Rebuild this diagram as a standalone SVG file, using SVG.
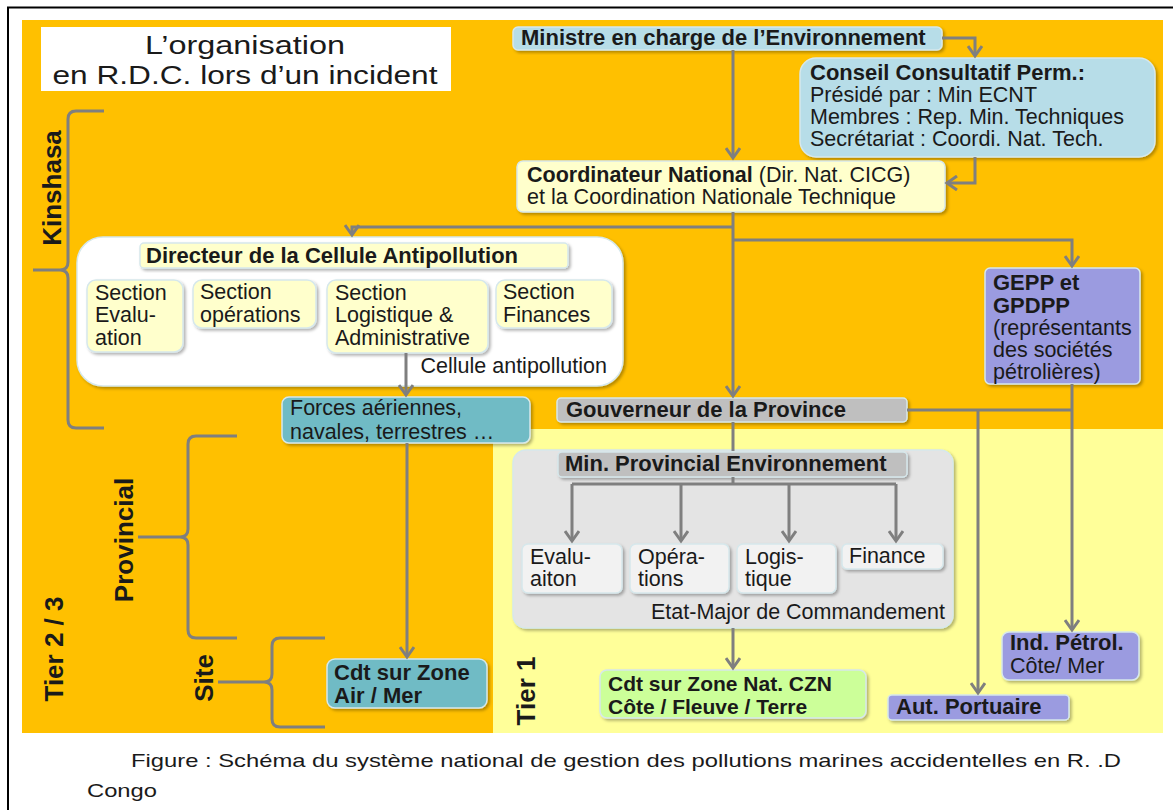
<svg xmlns="http://www.w3.org/2000/svg" width="1173" height="810" viewBox="0 0 1173 810">
<defs>
<style>
text{font-family:"Liberation Sans",Arial,sans-serif;fill:#1a1a1a}
.t{font-size:21.5px}
.b{font-size:22px;font-weight:bold}
.rot{font-size:26px;font-weight:bold;text-anchor:middle}
.box{stroke:#d6e8ec;stroke-width:1.5;filter:url(#sh)}
.lb{fill:#b7dde8}.ly{fill:#ffffcc}.teal{fill:#6fbbc5}.pur{fill:#9b9be0}.gr{fill:#bfbfbf}.em{fill:#e4e4e4}.sub{fill:#f2f2f2}.grn{fill:#ccff99}.wh{fill:#ffffff}
.c{fill:none;stroke:#7f7f7f;stroke-width:3}
.br{fill:none;stroke:#7f7f7f;stroke-width:3}
</style>
<filter id="sh" x="-5%" y="-10%" width="115%" height="130%">
<feDropShadow dx="2" dy="2" stdDeviation="1.5" flood-color="#000" flood-opacity="0.3"/>
</filter>
<marker id="ah" viewBox="0 0 14 16" refX="11" refY="8" markerWidth="14" markerHeight="16" markerUnits="userSpaceOnUse" orient="auto">
<path d="M1,1 L11,8 L1,15" fill="none" stroke="#7f7f7f" stroke-width="3"/>
</marker>
</defs>

<!-- background -->
<rect x="0" y="0" width="1173" height="810" fill="#ffffff"/>
<path d="M8,810 V7.5 H1173" fill="none" stroke="#000" stroke-width="2"/>
<rect x="22" y="20" width="1141" height="713" fill="#ffc000"/>
<rect x="493" y="429" width="670" height="304" fill="#ffff99"/>

<!-- title -->
<g id="title">
<rect x="41" y="27" width="410" height="64" fill="#ffffff"/>
<text x="245" y="54" style="font-size:26px;text-anchor:middle" textLength="200" lengthAdjust="spacingAndGlyphs">L’organisation</text>
<text x="245" y="84" style="font-size:26px;text-anchor:middle" textLength="385" lengthAdjust="spacingAndGlyphs">en R.D.C. lors d’un incident</text>
</g>

<!-- side labels and braces -->
<g id="kinshasa">
<path class="br" d="M104,111 H76 Q68,111 68,119 V262 Q68,270 60,270 H33 H60 Q68,270 68,278 V420 Q68,428 76,428 H104"/>
<text class="rot" transform="translate(61,188) rotate(-90)">Kinshasa</text>
</g>
<g id="provincial">
<path class="br" d="M237,436 H196 Q188,436 188,444 V529 Q188,537 180,537 H138 H180 Q188,537 188,545 V630 Q188,638 196,638 H237"/>
<text class="rot" transform="translate(133,540) rotate(-90)">Provincial</text>
</g>
<g id="site">
<path class="br" d="M325,638 H280 Q272,638 272,646 V674 Q272,682 264,682 H218 H264 Q272,682 272,690 V719 Q272,727 280,727 H325"/>
<text class="rot" transform="translate(213,678) rotate(-90)">Site</text>
</g>
<g id="tier23">
<text class="rot" transform="translate(63,649) rotate(-90)">Tier 2 / 3</text>
</g>
<g id="tier1">
<text class="rot" transform="translate(535,691) rotate(-90)">Tier 1</text>
</g>

<!-- nodes -->
<g id="ministre">
<rect class="box lb" x="513" y="27" width="429" height="23" rx="5"/>
<text class="b" x="521" y="45">Ministre en charge de l’Environnement</text>
</g>
<g id="conseil">
<rect class="box lb" x="800" y="58" width="355" height="99" rx="16"/>
<text class="b" x="810" y="80">Conseil Consultatif Perm.:</text>
<text class="t" x="810" y="102">Présidé par : Min ECNT</text>
<text class="t" x="810" y="124">Membres : Rep. Min. Techniques</text>
<text class="t" x="810" y="146">Secrétariat : Coordi. Nat. Tech.</text>
</g>
<g id="coordinateur">
<rect class="box ly" x="517" y="161" width="428" height="51" rx="6"/>
<text class="t" x="527" y="182"><tspan font-weight="bold">Coordinateur National</tspan> (Dir. Nat. CICG)</text>
<text class="t" x="527" y="204">et la Coordination Nationale Technique</text>
</g>
<g id="cellule">
<rect class="box wh" x="77" y="237" width="546" height="149" rx="26"/>
<text class="t" x="607" y="373" text-anchor="end">Cellule antipollution</text>
</g>
<g id="directeur">
<rect class="box ly" x="140" y="243" width="428" height="25" rx="4"/>
<text class="b" x="146" y="263">Directeur de la Cellule Antipollution</text>
</g>
<g id="sec-evaluation">
<rect class="box ly" x="87" y="280" width="96" height="72" rx="9"/>
<text class="t" x="95" y="300">Section</text>
<text class="t" x="95" y="322">Evalu-</text>
<text class="t" x="95" y="345">ation</text>
</g>
<g id="sec-operations">
<rect class="box ly" x="193" y="280" width="123" height="48" rx="9"/>
<text class="t" x="200" y="299">Section</text>
<text class="t" x="200" y="322">opérations</text>
</g>
<g id="sec-logistique">
<rect class="box ly" x="327" y="280" width="161" height="73" rx="9"/>
<text class="t" x="335" y="300">Section</text>
<text class="t" x="335" y="322">Logistique &amp;</text>
<text class="t" x="335" y="345">Administrative</text>
</g>
<g id="sec-finances">
<rect class="box ly" x="496" y="280" width="116" height="48" rx="9"/>
<text class="t" x="503" y="299">Section</text>
<text class="t" x="503" y="322">Finances</text>
</g>
<g id="forces">
<rect class="box teal" x="282" y="397" width="248" height="46" rx="7"/>
<text class="t" x="290" y="415">Forces aériennes,</text>
<text class="t" x="290" y="439">navales, terrestres …</text>
</g>
<g id="gepp">
<rect class="box pur" x="985" y="268" width="155" height="116" rx="5"/>
<text class="b" x="993" y="290">GEPP et</text>
<text class="b" x="993" y="313">GPDPP</text>
<text class="t" x="993" y="335">(représentants</text>
<text class="t" x="993" y="357">des sociétés</text>
<text class="t" x="993" y="379">pétrolières)</text>
</g>
<g id="gouverneur">
<rect class="box gr" x="557" y="398" width="350" height="24" rx="4"/>
<text class="b" x="566" y="417">Gouverneur de la Province</text>
</g>
<g id="etat-major">
<rect class="box em" x="513" y="450" width="440" height="178" rx="13"/>
<text class="t" x="945" y="619" text-anchor="end">Etat-Major de Commandement</text>
</g>
<g id="min-provincial">
<rect class="box gr" x="558" y="452" width="349" height="25" rx="4"/>
<text class="b" x="565" y="471">Min. Provincial Environnement</text>
</g>
<g id="evaluation">
<rect class="box sub" x="522" y="544" width="100" height="49" rx="6"/>
<text class="t" x="530" y="564">Evalu-</text>
<text class="t" x="530" y="586">aiton</text>
</g>
<g id="operations">
<rect class="box sub" x="630" y="544" width="99" height="49" rx="6"/>
<text class="t" x="638" y="564">Opéra-</text>
<text class="t" x="638" y="586">tions</text>
</g>
<g id="logistique">
<rect class="box sub" x="737" y="544" width="99" height="49" rx="6"/>
<text class="t" x="745" y="564">Logis-</text>
<text class="t" x="745" y="586">tique</text>
</g>
<g id="finance">
<rect class="box sub" x="842" y="544" width="101" height="25" rx="5"/>
<text class="t" x="849" y="563">Finance</text>
</g>
<g id="cdt-zone-nat">
<rect class="box grn" x="600" y="670" width="266" height="48" rx="7"/>
<text class="b" x="608" y="691" style="font-size:21px">Cdt  sur Zone Nat. CZN</text>
<text class="b" x="608" y="714" style="font-size:21px">Côte / Fleuve / Terre</text>
</g>
<g id="aut-portuaire">
<rect class="box pur" x="888" y="695" width="181" height="25" rx="4"/>
<text class="b" x="896" y="714">Aut. Portuaire</text>
</g>
<g id="ind-petrol">
<rect class="box pur" x="1002" y="632" width="137" height="48" rx="7"/>
<text class="b" x="1010" y="650">Ind. Pétrol.</text>
<text class="t" x="1010" y="673">Côte/ Mer</text>
</g>
<g id="cdt-zone">
<rect class="box teal" x="327" y="659" width="160" height="49" rx="8"/>
<text class="b" x="334" y="680">Cdt  sur Zone</text>
<text class="b" x="334" y="703">Air / Mer</text>
</g>

<!-- connectors -->
<g id="connectors">
<path class="c" d="M942,38 H975 V56" marker-end="url(#ah)"/>
<path class="c" d="M733,50 V158" marker-end="url(#ah)"/>
<path class="c" d="M975,157 V183 H947" marker-end="url(#ah)"/>
<path class="c" d="M733,212 V396" marker-end="url(#ah)"/>
<path class="c" d="M733,227 H352 V235" marker-end="url(#ah)"/>
<path class="c" d="M733,240 H1072 V266" marker-end="url(#ah)"/>
<path class="c" d="M406,353 V395" marker-end="url(#ah)"/>
<path class="c" d="M407,443 V657" marker-end="url(#ah)"/>
<path class="c" d="M907,410 H1072"/>
<path class="c" d="M978,410 V693" marker-end="url(#ah)"/>
<path class="c" d="M1072,384 V630" marker-end="url(#ah)"/>
<path class="c" d="M733,422 V451"/>
<path class="c" d="M733,477 V484"/>
<path class="c" d="M572,484 H896"/>
<path class="c" d="M572,484 V541" marker-end="url(#ah)"/>
<path class="c" d="M681,484 V541" marker-end="url(#ah)"/>
<path class="c" d="M789,484 V541" marker-end="url(#ah)"/>
<path class="c" d="M896,484 V541" marker-end="url(#ah)"/>
<path class="c" d="M733,628 V668" marker-end="url(#ah)"/>
</g>

<!-- caption -->
<g id="caption">
<text x="131" y="767" style="font-size:19px" textLength="990" lengthAdjust="spacingAndGlyphs">Figure : Schéma du système national de gestion des pollutions marines accidentelles en R. .D</text>
<text x="87" y="797" style="font-size:19px" textLength="70" lengthAdjust="spacingAndGlyphs">Congo</text>
</g>
</svg>
